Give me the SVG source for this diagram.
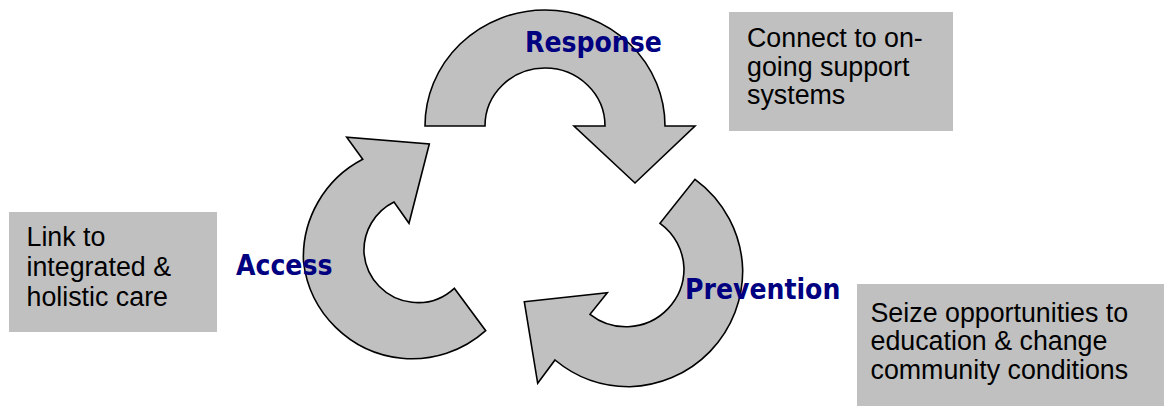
<svg xmlns="http://www.w3.org/2000/svg" width="1164" height="406" viewBox="0 0 1164 406">
  <style>
    .arrow { fill: #C0C0C0; stroke: #000000; stroke-width: 1.6; stroke-linejoin: miter; }
    .box { fill: #C0C0C0; stroke: none; }
    .note { font-family: "Liberation Sans", Arial, sans-serif; font-size: 26.8px; fill: #000000; }
    .stage { font-family: "DejaVu Sans Condensed", "DejaVu Sans", sans-serif; font-weight: bold; font-size: 28px; fill: #000080; }
  </style>
  <rect width="1164" height="406" fill="#FFFFFF"/>

  <!-- circular arrows forming the cycle -->
  <g id="connectors">
    <!-- Response: top arc, head pointing down-right -->
    <path id="arrow-response" class="arrow"
          d="M425,126 A120,116 0 0 1 665,126 L695,126 L635,183 L574,126 L605,126 A60,58 0 0 0 485,126 Z"/>
    <!-- Prevention: right arc, head pointing left -->
    <path id="arrow-prevention" class="arrow"
          d="M524.3,301.7 L607.3,292.7 L590,314.3
             A58,58 0 0 0 628.3,326.7 A58,58 0 0 0 684,268 A58,58 0 0 0 660,223.3
             L695,179.3
             A116,116 0 0 1 742.7,270 A116,116 0 0 1 630,386.7 A116,116 0 0 1 555,360
             L537.7,383.3 Z"/>
    <!-- Access: left arc, head pointing up-right -->
    <path id="arrow-access" class="arrow"
          d="M429.3,144 L409,223.3 L394,202
             A54,54 0 0 0 364,253 A54,54 0 0 0 412,302.3 A54,54 0 0 0 454.3,288.3
             L485.7,330.7
             A110,110 0 0 1 401.7,358.3 A110,110 0 0 1 303.5,262 A110,110 0 0 1 362.7,159.3
             L346.7,137.3 Z"/>
  </g>

  <g id="response">
    <text class="stage" x="525" y="52">Response</text>
  </g>
  <g id="access">
    <text class="stage" x="236" y="275">Access</text>
  </g>
  <g id="prevention">
    <text class="stage" x="685" y="299">Prevention</text>
  </g>

  <g id="note-response">
    <rect class="box" x="729" y="12" width="224" height="119"/>
    <text class="note" x="747" y="47">Connect to on-</text>
    <text class="note" x="747" y="75.5">going support</text>
    <text class="note" x="747" y="104">systems</text>
  </g>
  <g id="note-access">
    <rect class="box" x="9" y="212" width="208" height="120"/>
    <text class="note" x="26.5" y="245.5">Link to</text>
    <text class="note" x="26.5" y="276">integrated &amp;</text>
    <text class="note" x="26.5" y="306">holistic care</text>
  </g>
  <g id="note-prevention">
    <rect class="box" x="857" y="284" width="307" height="122"/>
    <text class="note" x="870.5" y="321.5">Seize opportunities to</text>
    <text class="note" x="870.5" y="350">education &amp; change</text>
    <text class="note" x="870.5" y="378.5">community conditions</text>
  </g>
</svg>
